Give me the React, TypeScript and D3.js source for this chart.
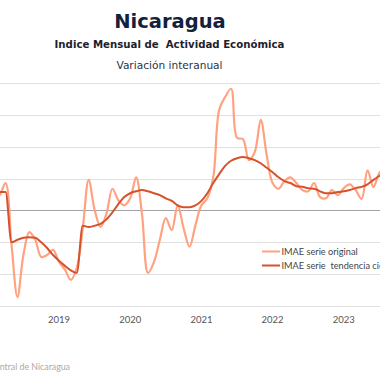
import React from "react";
import * as d3 from "d3";

// Monthly data, starting Feb 2018
const startYear = 2018;
const startMonth = 1; // 0 = Jan, 1 = Feb

const original: number[] = [
  1.6, 2.4, 4.3, -5.4, -13.6, -7.0, -3.4, -4.6, -7.3, -7.0, -6.2, // Feb-Dec 2018
  -8.1, -9.3, -10.9, -9.0, -2.8, 4.8, 0.1, -2.6, -0.5, 3.4, 1.6, 0.8, // 2019
  1.9, 5.2, -0.7, -9.8, -8.1, -4.6, -1.2, -3.1, 0.8, -2.8, -5.7, -2.3, // 2020
  0.8, 1.9, 5.2, 15.8, 17.8, 19.1, 11.4, 11.2, 7.9, 9.2, 14.2, 8.7, // 2021
  4.3, 3.4, 4.6, 5.2, 4.3, 3.2, 3.0, 4.3, 2.1, 1.9, 3.2, 2.4, // 2022
  3.5, 4.1, 3.2, 1.8, 6.3, 3.7, 5.9, 6.7, // 2023
];

const trend: number[] = [
  2.9, 2.9, 2.9, -5.0, -4.6, -4.3, -4.2, -4.3, -5.0, -5.9, -7.0, // Feb-Dec 2018
  -7.9, -8.7, -9.4, -9.8, -2.4, -2.6, -2.4, -2.1, -1.4, -0.3, 1.0, 2.1, // 2019
  2.7, 3.0, 3.2, 3.0, 2.7, 2.4, 1.9, 1.5, 0.8, 0.5, 0.5, 0.8, // 2020
  1.5, 2.7, 4.3, 5.7, 7.0, 7.8, 8.2, 8.4, 8.2, 7.9, 7.4, 6.7, // 2021
  6.0, 5.2, 4.6, 4.3, 3.8, 3.7, 3.5, 3.4, 3.0, 2.7, 2.7, 2.9, // 2022
  3.0, 3.2, 3.5, 3.7, 4.1, 4.8, 5.4, 6.0, // 2023
];

const yearLabels: string[] = ["2019", "2020", "2021", "2022", "2023"];
const gridValues: number[] = [-15, -10, -5, 0, 5, 10, 15, 20];

const title = "Nicaragua";
const subtitle = "Indice Mensual de  Actividad Económica";
const subtitle2 = "Variación interanual";
const legendLabels: string[] = ["IMAE serie original", "IMAE serie  tendencia ciclo"];
const source = "Fuente: Banco Central de Nicaragua";

const W = 380;
const H = 380;

const monthIndex = (i: number) => (startYear - 2019) * 12 + startMonth + i; // months since Jan 2019

export default function App() {
  const x = d3.scaleLinear().domain([0, 48]).range([59, 343.8]);
  const y = d3.scaleLinear().domain([-15, 20]).range([306, 83]);

  const lineOrig = d3
    .line<number>()
    .x((_, i) => x(monthIndex(i)))
    .y((d) => y(d))
    .curve(d3.curveCatmullRom.alpha(0.5));
  const lineTrend = d3
    .line<number>()
    .x((_, i) => x(monthIndex(i)))
    .y((d) => y(d))
    .curve(d3.curveMonotoneX);

  const colOrig = "#ffa282";
  const colTrend = "#d6522c";
  const font = "Lato, 'DejaVu Sans', sans-serif";
  const titleFont = "'DejaVu Sans', sans-serif";
  const pre = { whiteSpace: "pre" as const };

  return (
    <svg
      width={W}
      height={H}
      style={{ position: "absolute", left: 0, top: 0, background: "#fff" }}
    >
      <rect x={0} y={0} width={W} height={H} fill="#fff" />
      <text x={170} y={28} textAnchor="middle" fontFamily={titleFont} fontWeight="bold" fontSize={19.5} fill="#14213d">
        {title}
      </text>
      <text x={169.5} y={47.5} textAnchor="middle" fontFamily={titleFont} fontWeight="bold" fontSize={10.2} fill="#1e1e2e" style={pre}>
        {subtitle}
      </text>
      <text x={169.5} y={69} textAnchor="middle" fontFamily={titleFont} fontSize={10.6} fill="#2e3344">
        {subtitle2}
      </text>

      {gridValues.map((v) => (
        <line
          key={v}
          x1={0}
          x2={W}
          y1={Math.round(y(v)) + 0.5}
          y2={Math.round(y(v)) + 0.5}
          stroke={v === 0 ? "#a3a3a3" : "#e0e0e0"}
          strokeWidth={v === 0 ? 1.2 : 1}
        />
      ))}

      {yearLabels.map((yl, i) => (
        <text key={yl} x={x(i * 12)} y={323} textAnchor="middle" fontFamily={font} fontSize={9.5} fill="#555">
          {yl}
        </text>
      ))}

      <path d={lineOrig(original) || ""} fill="none" stroke={colOrig} strokeWidth={2.2} />
      <path d={lineTrend(trend) || ""} fill="none" stroke={colTrend} strokeWidth={2} />

      {legendLabels.map((l, i) => (
        <g key={l} transform={`translate(262, ${251.5 + i * 14})`}>
          <line x1={0} x2={18} y1={0} y2={0} stroke={i === 0 ? colOrig : colTrend} strokeWidth={2} />
          <text x={19.5} y={3.3} fontFamily={font} fontSize={9.2} fill="#444" style={pre}>
            {l}
          </text>
        </g>
      ))}

      <text x={70} y={370} textAnchor="end" fontFamily={font} fontSize={8.8} fill="#aaa">
        {source}
      </text>
    </svg>
  );
}
